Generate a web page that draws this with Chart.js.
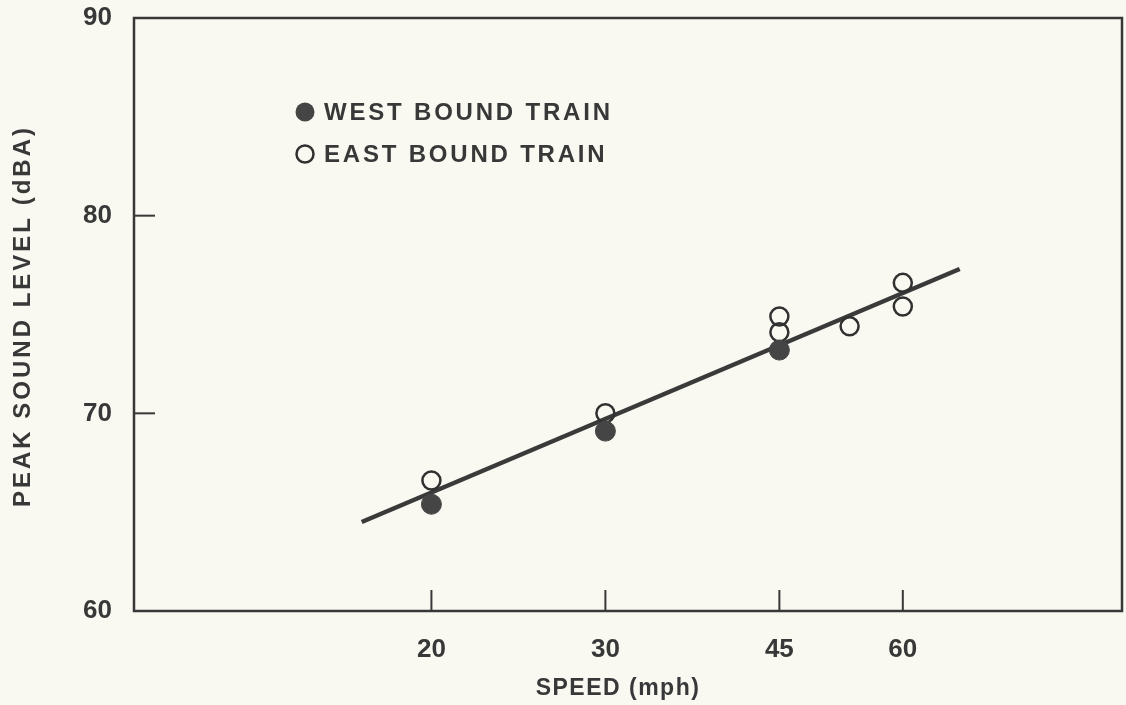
<!DOCTYPE html>
<html>
<head>
<meta charset="utf-8">
<script src="https://cdn.jsdelivr.net/npm/chart.js@4.4.1/dist/chart.umd.min.js"></script>
<style>
  html, body { margin: 0; padding: 0; background: #f9f9f2; }
  #wrap { width: 1126px; height: 705px; }
</style>
</head>
<body>
<div id="wrap"><canvas id="c" width="1126" height="705"></canvas></div>
<script>
// Speed axis (log) ticks and level axis ticks
const speedTicks = [20, 30, 45, 60];
const levelTicks = [60, 70, 80, 90];

// West bound train measurements
const westSpeed = [20, 30, 45];
const westLevel = [65.4, 69.1, 73.2];

// East bound train measurements
const eastSpeed = [20, 30, 45, 45, 53, 60, 60];
const eastLevel = [66.6, 70.0, 74.9, 74.1, 74.4, 76.6, 75.4];

// Fitted regression line end points
const fitSpeed = [17, 68.5];
const fitLevel = [64.5, 77.3];

const xTitle = 'SPEED (mph)';
const yTitle = 'PEAK SOUND LEVEL (dBA)';

const ink = '#383838';
const FONT = "'Liberation Sans', Arial, sans-serif";

const toPts = (xs, ys) => xs.map((x, i) => ({ x: x, y: ys[i] }));

// Frame around the plot area plus short inward tick marks
const framePlugin = {
  id: 'frame',
  afterDatasetsDraw(chart) {
    const { ctx, chartArea: a, scales } = chart;
    ctx.save();
    ctx.strokeStyle = ink;
    ctx.lineWidth = 2.5;
    ctx.strokeRect(a.left, a.top, a.right - a.left, a.bottom - a.top);
    ctx.lineWidth = 2;
    const len = 21;
    speedTicks.forEach(v => {
      const px = scales.x.getPixelForValue(v);
      ctx.beginPath();
      ctx.moveTo(px, a.bottom);
      ctx.lineTo(px, a.bottom - len);
      ctx.stroke();
    });
    levelTicks.forEach(v => {
      if (v === scales.y.min || v === scales.y.max) return;
      const py = scales.y.getPixelForValue(v);
      ctx.beginPath();
      ctx.moveTo(a.left, py);
      ctx.lineTo(a.left + len, py);
      ctx.stroke();
    });
    ctx.restore();
  }
};

// Axis titles and the legend drawn inside the plot area
const textPlugin = {
  id: 'texts',
  afterDraw(chart) {
    const { ctx, chartArea: a } = chart;
    ctx.save();
    ctx.fillStyle = ink;
    ctx.textBaseline = 'middle';
    ctx.textAlign = 'center';

    // x axis title
    ctx.font = `bold 23px ${FONT}`;
    ctx.letterSpacing = '1.5px';
    ctx.fillText(xTitle, 618, 689);

    // y axis title, rotated
    ctx.save();
    ctx.translate(23, 316);
    ctx.rotate(-Math.PI / 2);
    ctx.font = `bold 24px ${FONT}`;
    ctx.letterSpacing = '3px';
    ctx.fillText(yTitle, 0, 0);
    ctx.restore();

    // legend
    const items = [
      { ds: chart.data.datasets[0], dy: 94 },
      { ds: chart.data.datasets[1], dy: 136 }
    ];
    ctx.font = `bold 24px ${FONT}`;
    ctx.letterSpacing = '2.8px';
    ctx.textAlign = 'left';
    items.forEach(it => {
      const cx = a.left + 171, cy = a.top + it.dy;
      ctx.beginPath();
      if (it.ds.pointBackgroundColor !== 'transparent') {
        ctx.arc(cx, cy, 9.5, 0, Math.PI * 2);
        ctx.fillStyle = it.ds.pointBackgroundColor;
        ctx.fill();
      } else {
        ctx.arc(cx, cy, 8.5, 0, Math.PI * 2);
        ctx.strokeStyle = it.ds.pointBorderColor;
        ctx.lineWidth = 2.5;
        ctx.stroke();
      }
      ctx.fillStyle = ink;
      ctx.fillText(it.ds.label, cx + 19, cy + 1);
    });
    ctx.restore();
  }
};

new Chart(document.getElementById('c'), {
  type: 'scatter',
  data: {
    datasets: [
      {
        label: 'WEST BOUND TRAIN',
        data: toPts(westSpeed, westLevel),
        pointRadius: 10,
        pointBackgroundColor: '#454545',
        pointBorderColor: '#454545',
        pointBorderWidth: 1,
        order: 1
      },
      {
        label: 'EAST BOUND TRAIN',
        data: toPts(eastSpeed, eastLevel),
        pointRadius: 9,
        pointBackgroundColor: 'transparent',
        pointBorderColor: '#303030',
        pointBorderWidth: 2.5,
        order: 2
      },
      {
        label: 'fit',
        data: toPts(fitSpeed, fitLevel),
        showLine: true,
        pointRadius: 0,
        borderColor: '#3a3a3a',
        borderWidth: 4.5,
        order: 3
      }
    ]
  },
  options: {
    responsive: false,
    animation: false,
    layout: { autoPadding: false, padding: { top: 18, right: 4, left: 0, bottom: 0 } },
    plugins: { legend: { display: false }, tooltip: { enabled: false } },
    scales: {
      x: {
        type: 'logarithmic',
        min: 10,
        max: 100,
        afterBuildTicks: s => { s.ticks = speedTicks.map(v => ({ value: v })); },
        afterFit: s => { s.height = 94; s.paddingLeft = 0; s.paddingRight = 0; },
        grid: { display: false, drawTicks: false },
        border: { display: false },
        ticks: {
          color: ink,
          font: { family: FONT, size: 26, weight: 'bold' },
          padding: 23,
          maxRotation: 0,
          autoSkip: false,
          callback: v => String(v)
        }
      },
      y: {
        min: 60,
        max: 90,
        afterBuildTicks: s => { s.ticks = levelTicks.map(v => ({ value: v })); },
        afterFit: s => { s.width = 134; s.paddingTop = 0; s.paddingBottom = 0; },
        grid: { display: false, drawTicks: false },
        border: { display: false },
        ticks: {
          color: ink,
          font: { family: FONT, size: 26, weight: 'bold' },
          padding: 22
        }
      }
    }
  },
  plugins: [framePlugin, textPlugin]
});
</script>
</body>
</html>
